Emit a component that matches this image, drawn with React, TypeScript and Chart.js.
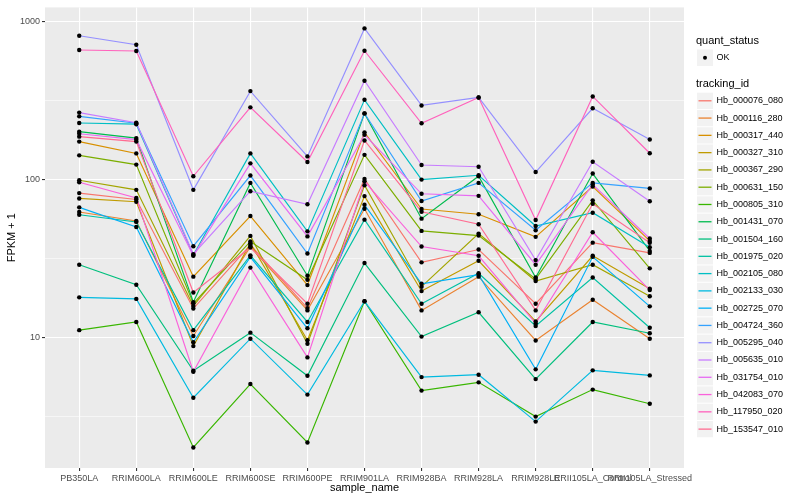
import React, { useEffect, useRef } from "react";
import { Chart, registerables } from "chart.js";

Chart.register(...registerables);

const categories = [
  "PB350LA", "RRIM600LA", "RRIM600LE", "RRIM600SE", "RRIM600PE", "RRIM901LA",
  "RRIM928BA", "RRIM928LA", "RRIM928LE", "RRII105LA_Control", "RRII105LA_Stressed",
];

const trackingIds = [
  "Hb_000076_080", "Hb_000116_280", "Hb_000317_440", "Hb_000327_310", "Hb_000367_290",
  "Hb_000631_150", "Hb_000805_310", "Hb_001431_070", "Hb_001504_160", "Hb_001975_020",
  "Hb_002105_080", "Hb_002133_030", "Hb_002725_070", "Hb_004724_360", "Hb_005295_040",
  "Hb_005635_010", "Hb_031754_010", "Hb_042083_070", "Hb_117950_020", "Hb_153547_010",
];

const seriesColors = [
  "#F8766D", "#EA8331", "#D89000", "#C09B00", "#A3A500",
  "#7CAE00", "#39B600", "#00BB4E", "#00BF7D", "#00C1A3",
  "#00BFC4", "#00BAE0", "#00B0F6", "#35A2FF", "#9590FF",
  "#C77CFF", "#E76BF3", "#FA62DB", "#FF62BC", "#FF6C91",
];

// FPKM + 1 per sample, in category order
const hb000076_080 = [81.7, 74.5, 15.2, 38.5, 15.3, 100.4, 29.8, 35.9, 16.3, 39.7, 34.2];
const hb000116_280 = [62, 54.4, 10.2, 37.4, 14.8, 65, 14.8, 24.2, 9.55, 17.3, 9.8];
const hb000317_440 = [173, 145.7, 24.2, 58.5, 21.4, 198, 64.8, 60, 43.2, 90, 40.7];
const hb000327_310 = [75.6, 72, 8.8, 39.4, 9.58, 78.2, 19.6, 30.5, 12.6, 32.8, 20.3];
const hb000367_290 = [98.6, 85.7, 15.8, 43.8, 9.1, 91.7, 20.9, 45.3, 22.7, 28.8, 18.2];
const hb000631_150 = [141.6, 123.8, 16.4, 40.4, 23.1, 142.6, 47.1, 44, 23.4, 73.5, 27.3];
const hb000805_310 = [11.1, 12.5, 2.01, 5.06, 2.16, 16.9, 4.6, 5.19, 3.15, 4.67, 3.8];
const hb001431_070 = [200, 182, 16.7, 94.8, 24.5, 261, 56.3, 104.5, 23.9, 108.6, 35.2];
const hb001504_160 = [28.8, 21.5, 6.14, 10.7, 5.71, 29.5, 10.1, 14.4, 5.44, 12.5, 10.6];
const hb001975_020 = [59.6, 53.7, 11.1, 33, 12.5, 55.5, 16.3, 25.4, 11.8, 23.9, 11.5];
const hb002105_080 = [227, 223, 33.2, 145.7, 46.8, 318, 99.5, 106, 50.6, 61.4, 37.1];
const hb002133_030 = [17.9, 17.5, 4.15, 9.8, 4.34, 16.9, 5.6, 5.8, 2.93, 6.18, 5.74];
const hb002725_070 = [66.4, 49.9, 9.3, 32.2, 11.4, 68.9, 21.8, 24.9, 6.27, 32.3, 15.7];
const hb004724_360 = [250, 226, 37.7, 105.5, 33.9, 261, 72.8, 94.8, 47.6, 94.8, 87.5];
const hb005295_040 = [808, 710, 85.7, 361, 139.5, 900, 293, 329, 111, 281, 178.5];
const hb005635_010 = [264, 228, 33.6, 84, 69.5, 420, 123, 120, 30.8, 129, 72.5];
const hb031754_010 = [194, 178, 32.8, 126, 43.5, 191, 80.9, 78.5, 28.8, 92.6, 42.2];
const hb042083_070 = [95.8, 76.2, 6.05, 27.6, 7.46, 97, 37.5, 32.8, 12.25, 46.2, 19.9];
const hb117950_020 = [657, 648, 104.4, 285, 128.5, 650, 226, 329, 55.2, 334, 146];
const hb153547_010 = [186, 173, 19.2, 37, 16.3, 176, 62.3, 51.9, 14.8, 70, 39.6];

const seriesValues = [
  hb000076_080, hb000116_280, hb000317_440, hb000327_310, hb000367_290,
  hb000631_150, hb000805_310, hb001431_070, hb001504_160, hb001975_020,
  hb002105_080, hb002133_030, hb002725_070, hb004724_360, hb005295_040,
  hb005635_010, hb031754_010, hb042083_070, hb117950_020, hb153547_010,
];

const majorTicks = [10, 100, 1000];
const minorTicks = [3.1623, 31.623, 316.23];

const FONT = '"Liberation Sans", Arial, Helvetica, sans-serif';

const bgPlugin = {
  id: "ggbg",
  beforeDraw(chart: any) {
    const { ctx, chartArea } = chart;
    ctx.save();
    ctx.fillStyle = "#FFFFFF";
    ctx.fillRect(0, 0, chart.width, chart.height);
    ctx.fillStyle = "#EBEBEB";
    ctx.fillRect(chartArea.left, chartArea.top, chartArea.right - chartArea.left, chartArea.bottom - chartArea.top);
    ctx.restore();
  },
};

const legendPlugin = {
  id: "gglegend",
  afterDraw(chart: any) {
    const { ctx } = chart;
    ctx.save();
    const x0 = 697;
    ctx.textBaseline = "middle";
    ctx.textAlign = "left";
    ctx.fillStyle = "#000";
    ctx.font = `11px ${FONT}`;
    ctx.fillText("quant_status", 696, 41);
    ctx.fillStyle = "#F2F2F2";
    ctx.fillRect(x0, 49.5, 16, 16.5);
    ctx.fillStyle = "#000";
    ctx.beginPath();
    ctx.arc(x0 + 8, 57.7, 2, 0, Math.PI * 2);
    ctx.fill();
    ctx.font = `9px ${FONT}`;
    ctx.fillText("OK", 716.5, 57.7);

    ctx.font = `11px ${FONT}`;
    ctx.fillText("tracking_id", 696, 84);
    const step = 17.28;
    const firstCenter = 100.8;
    trackingIds.forEach((id, i) => {
      const cy = firstCenter + i * step;
      ctx.fillStyle = "#F2F2F2";
      ctx.fillRect(x0, cy - step / 2 + 0.5, 16, step - 1);
      ctx.strokeStyle = seriesColors[i];
      ctx.lineWidth = 1.3;
      ctx.beginPath();
      ctx.moveTo(x0 + 1.5, cy);
      ctx.lineTo(x0 + 14.5, cy);
      ctx.stroke();
      ctx.fillStyle = "#000";
      ctx.font = `9px ${FONT}`;
      ctx.fillText(id, 716.5, cy);
    });
    ctx.restore();
  },
};

export default function App() {
  const ref = useRef<HTMLCanvasElement | null>(null);

  useEffect(() => {
    if (!ref.current) return;
    const lineSets = seriesValues.map((vals, s) => ({
      label: trackingIds[s],
      data: vals.map((v, i) => ({ x: i, y: v })),
      showLine: true,
      borderColor: seriesColors[s],
      backgroundColor: seriesColors[s],
      borderWidth: 1.15,
      pointRadius: 0,
      pointHoverRadius: 0,
      fill: false,
      tension: 0,
      order: 1,
    }));
    const allPoints: { x: number; y: number }[] = [];
    seriesValues.forEach((vals) => vals.forEach((v, i) => allPoints.push({ x: i, y: v })));
    const pointSet = {
      label: "OK",
      data: allPoints,
      showLine: false,
      pointRadius: 2.2,
      pointBackgroundColor: "#000",
      pointBorderWidth: 0,
      borderColor: "#000",
      order: 0,
    };

    const chart = new Chart(ref.current, {
      type: "scatter",
      data: { datasets: [pointSet, ...lineSets.slice().reverse()] as any },
      plugins: [bgPlugin, legendPlugin],
      options: {
        animation: false,
        responsive: true,
        maintainAspectRatio: false,
        events: [],
        layout: { padding: { left: 0, right: 116, top: 5, bottom: 0 } },
        plugins: { legend: { display: false }, tooltip: { enabled: false } },
        scales: {
          x: {
            type: "linear",
            min: -0.6,
            max: 10.6,
            afterBuildTicks: (scale: any) => {
              scale.ticks = categories.map((_, i) => ({ value: i }));
            },
            afterFit: (scale: any) => {
              scale.height = 32;
            },
            border: { display: false },
            grid: {
              color: "#FFFFFF",
              lineWidth: 1.1,
              drawTicks: true,
              tickLength: 3,
              tickColor: "#333333",
            },
            ticks: {
              autoSkip: false,
              maxRotation: 0,
              minRotation: 0,
              padding: 2,
              color: "#4D4D4D",
              font: { family: FONT, size: 9 },
              callback: (v: any) => categories[Math.round(Number(v))] ?? "",
            },
            title: {
              display: true,
              text: "sample_name",
              color: "#000",
              font: { family: FONT, size: 11 },
              padding: { top: 0, bottom: 5.5 },
            },
          },
          y: {
            type: "logarithmic",
            min: 1.49,
            max: 1222,
            afterBuildTicks: (scale: any) => {
              scale.ticks = [...minorTicks, ...majorTicks]
                .sort((a, b) => a - b)
                .map((v) => ({ value: v, major: majorTicks.includes(v) }));
            },
            afterFit: (scale: any) => {
              scale.width = 45;
            },
            border: { display: false },
            grid: {
              color: "#FFFFFF",
              lineWidth: (c: any) => (c.tick && majorTicks.includes(c.tick.value) ? 1.1 : 0.55),
              drawTicks: true,
              tickLength: 3,
              tickColor: (c: any) => (c.tick && majorTicks.includes(c.tick.value) ? "#333333" : "rgba(0,0,0,0)"),
            },
            ticks: {
              autoSkip: false,
              padding: 2,
              color: "#4D4D4D",
              font: { family: FONT, size: 9 },
              callback: (v: any) => (majorTicks.includes(Number(v)) ? String(v) : ""),
            },
            title: {
              display: true,
              text: "FPKM + 1",
              color: "#000",
              font: { family: FONT, size: 11 },
              padding: { top: 5.5, bottom: 0 },
            },
          },
        },
      } as any,
    });
    return () => chart.destroy();
  }, []);

  return (
    <div style={{ position: "fixed", left: 0, top: 0, width: 800, height: 500, background: "#fff" }}>
      <canvas ref={ref} />
    </div>
  );
}
